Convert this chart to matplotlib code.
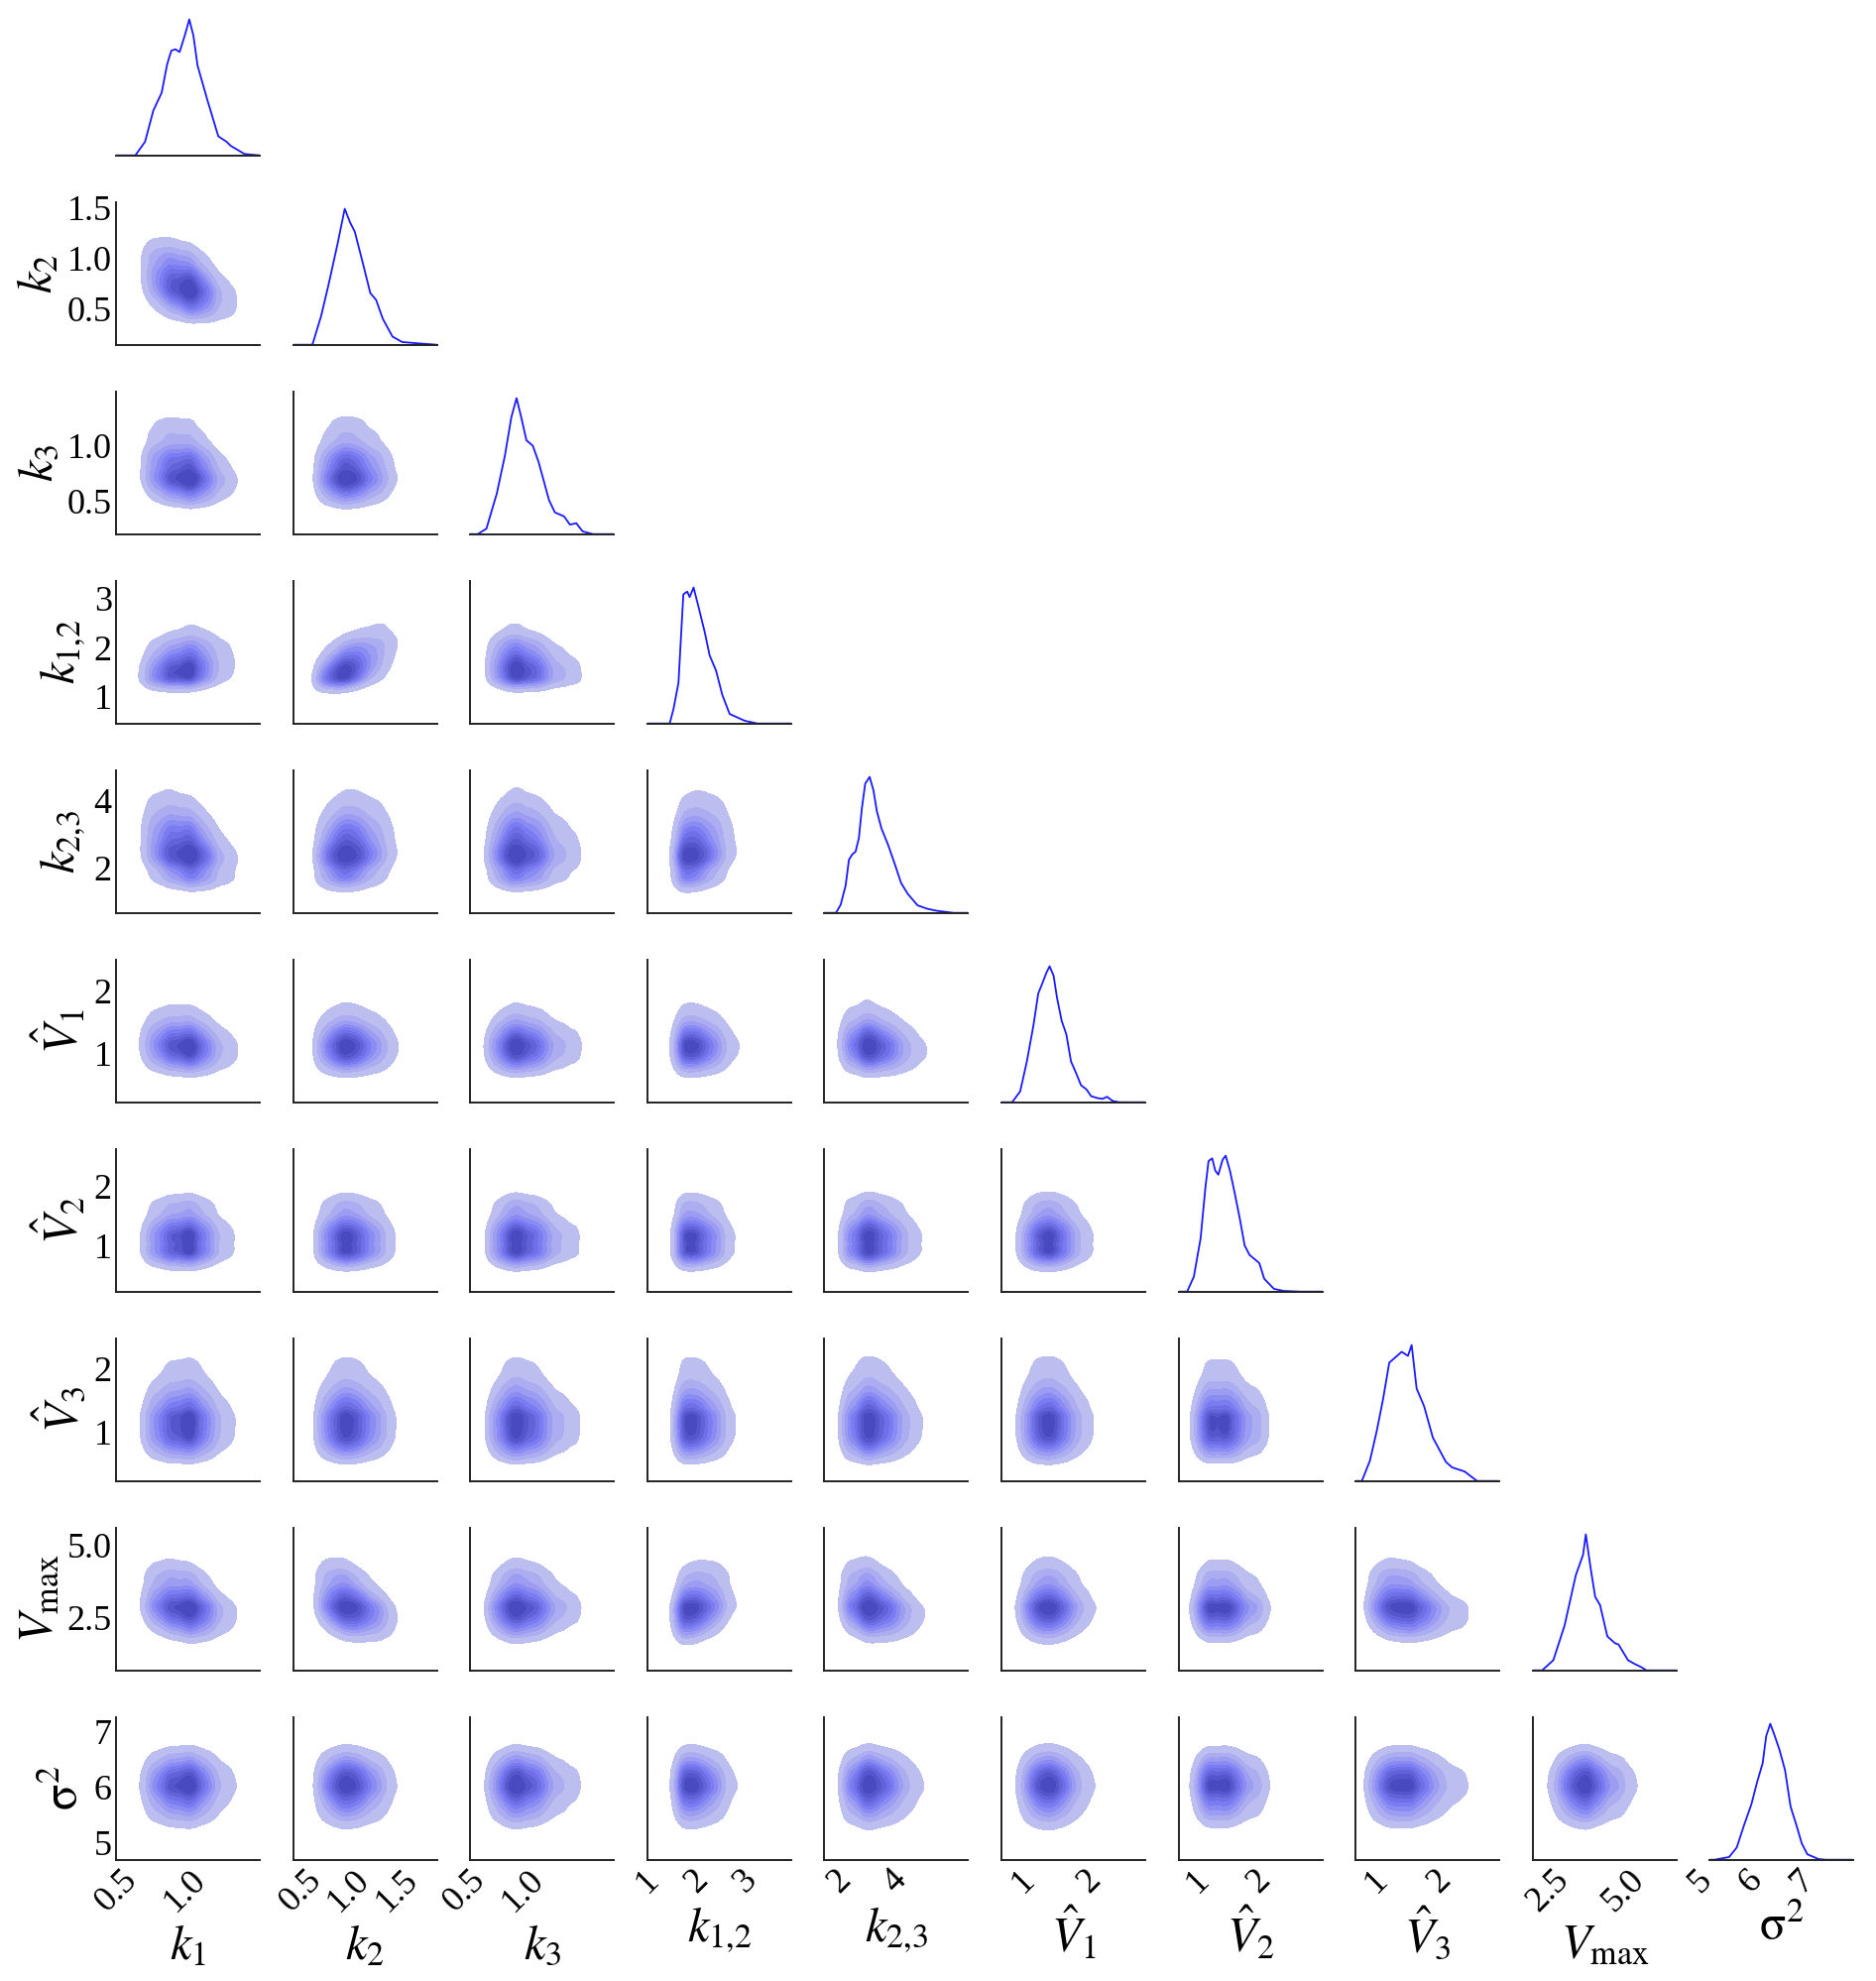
import numpy as np
import matplotlib
matplotlib.use("Agg")
import matplotlib.pyplot as plt
from matplotlib.colors import LinearSegmentedColormap

plt.rcParams['font.family'] = ['Liberation Serif', 'DejaVu Serif']
plt.rcParams['mathtext.fontset'] = 'stix'

# variables of the corner plot
names = ['k1', 'k2', 'k3', 'k12', 'k23', 'V1', 'V2', 'V3', 'Vmax', 'sigma2']
labels = [r'$k_1$', r'$k_2$', r'$k_3$', r'$k_{1{,}2}$', r'$k_{2{,}3}$',
          r'$\hat{V}_1$', r'$\hat{V}_2$', r'$\hat{V}_3$', r'$V_{\mathrm{max}}$',
          r'$\mathrm{\sigma}^2$']

# axis ranges (x: columns, y: rows)
x_ranges = [(0.30, 1.34), (0.14, 1.63), (0.31, 1.55), (0.62, 3.57), (0.79, 6.0),
            (0.41, 2.56), (0.39, 2.74), (0.37, 2.68), (1.10, 5.84), (4.83, 7.66)]
y_ranges = [None, (0.14, 1.56), (0.205, 1.49), (0.46, 3.36), (0.68, 4.9),
            (0.22, 2.51), (0.23, 2.62), (0.24, 2.48), (0.66, 5.61), (4.70, 7.27)]
ticks = [[0.5, 1.0], [0.5, 1.0, 1.5], [0.5, 1.0], [1, 2, 3], [2, 4],
         [1, 2], [1, 2], [1, 2], [2.5, 5.0], [5, 6, 7]]
tick_labels = [['0.5', '1.0'], ['0.5', '1.0', '1.5'], ['0.5', '1.0'], ['1', '2', '3'], ['2', '4'],
               ['1', '2'], ['1', '2'], ['1', '2'], ['2.5', '5.0'], ['5', '6', '7']]

# marginal posterior densities (relative height)
k1_vals = [0.30, 0.44, 0.51, 0.57, 0.63, 0.67, 0.70, 0.73, 0.76, 0.80, 0.83, 0.86, 0.89, 0.96, 1.04, 1.10, 1.13, 1.23, 1.34]
k1_dens = [0, 0, 0.10, 0.33, 0.46, 0.67, 0.77, 0.78, 0.76, 0.89, 1.0, 0.88, 0.66, 0.41, 0.14, 0.10, 0.07, 0.01, 0]
k2_vals = [0.14, 0.34, 0.43, 0.51, 0.60, 0.675, 0.73, 0.78, 0.87, 0.94, 1.00, 1.07, 1.17, 1.27, 1.44, 1.63]
k2_dens = [0, 0, 0.21, 0.45, 0.74, 1.0, 0.90, 0.83, 0.58, 0.38, 0.33, 0.19, 0.06, 0.02, 0.01, 0]
k3_vals = [0.31, 0.375, 0.45, 0.54, 0.61, 0.665, 0.71, 0.75, 0.795, 0.85, 0.90, 0.99, 1.04, 1.12, 1.17, 1.225, 1.28, 1.37, 1.55]
k3_dens = [0, 0, 0.04, 0.30, 0.58, 0.86, 1.0, 0.86, 0.69, 0.65, 0.53, 0.25, 0.16, 0.13, 0.07, 0.08, 0.02, 0, 0]
k12_vals = [0.62, 1.08, 1.16, 1.26, 1.36, 1.44, 1.49, 1.57, 1.67, 1.80, 1.90, 2.03, 2.16, 2.31, 2.62, 2.88, 3.57]
k12_dens = [0, 0, 0.11, 0.30, 0.95, 0.97, 0.93, 1.0, 0.86, 0.67, 0.50, 0.39, 0.21, 0.07, 0.02, 0, 0]
k23_vals = [0.79, 1.21, 1.38, 1.56, 1.68, 1.80, 1.92, 2.04, 2.15, 2.27, 2.43, 2.57, 2.69, 2.86, 3.10, 3.34,
            3.57, 3.81, 4.17, 4.52, 4.87, 5.47, 6.0]
k23_dens = [0, 0, 0.06, 0.20, 0.39, 0.43, 0.45, 0.55, 0.77, 0.95, 1.0, 0.90, 0.75, 0.62, 0.50, 0.36,
            0.22, 0.14, 0.055, 0.03, 0.015, 0, 0]
V1_vals = [0.41, 0.57, 0.69, 0.79, 0.89, 0.96, 1.01, 1.08, 1.13, 1.19, 1.24, 1.31, 1.38, 1.45, 1.53, 1.60,
           1.68, 1.75, 1.85, 1.92, 1.99, 2.07, 2.17, 2.56]
V1_dens = [0, 0, 0.08, 0.30, 0.57, 0.80, 0.86, 0.95, 1.0, 0.93, 0.77, 0.60, 0.50, 0.30, 0.21, 0.125,
           0.095, 0.045, 0.03, 0.025, 0.04, 0.01, 0, 0]
V2_vals = [0.39, 0.53, 0.64, 0.75, 0.83, 0.88, 0.94, 0.99, 1.04, 1.11, 1.16, 1.23, 1.31, 1.39, 1.47, 1.55,
           1.63, 1.71, 1.79, 1.87, 1.95, 2.11, 2.38, 2.74]
V2_dens = [0, 0, 0.11, 0.39, 0.77, 0.96, 0.98, 0.89, 0.86, 0.97, 1.0, 0.89, 0.72, 0.54, 0.34, 0.27,
           0.24, 0.21, 0.095, 0.057, 0.02, 0.005, 0, 0]
V3_vals = [0.37, 0.47, 0.60, 0.71, 0.81, 0.91, 1.01, 1.11, 1.21, 1.27, 1.35, 1.47, 1.61, 1.82, 1.92, 2.12, 2.32, 2.68]
V3_dens = [0, 0, 0.15, 0.37, 0.60, 0.87, 0.91, 0.95, 0.92, 1.0, 0.68, 0.55, 0.32, 0.14, 0.10, 0.07, 0, 0]
Vmax_vals = [1.10, 1.41, 1.78, 2.15, 2.52, 2.76, 2.85, 3.01, 3.16, 3.32, 3.56, 3.81, 3.93, 4.24, 4.48, 4.67, 4.85, 5.84]
Vmax_dens = [0, 0, 0.075, 0.33, 0.70, 0.85, 1.0, 0.75, 0.54, 0.48, 0.25, 0.20, 0.19, 0.075, 0.045, 0.025, 0, 0]
sigma2_vals = [4.83, 4.92, 5.21, 5.36, 5.50, 5.65, 5.76, 5.87, 5.94, 6.02, 6.09, 6.20, 6.31, 6.42, 6.53, 6.64, 6.75, 6.97, 7.11, 7.66]
sigma2_dens = [0, 0, 0.02, 0.09, 0.25, 0.41, 0.57, 0.71, 0.91, 1.0, 0.93, 0.81, 0.66, 0.39, 0.26, 0.12, 0.04, 0.005, 0, 0]

marg_vals = [k1_vals, k2_vals, k3_vals, k12_vals, k23_vals, V1_vals, V2_vals, V3_vals, Vmax_vals, sigma2_vals]
marg_dens = [k1_dens, k2_dens, k3_dens, k12_dens, k23_dens, V1_dens, V2_dens, V3_dens, Vmax_dens, sigma2_dens]

# pairwise correlation estimated from the tilt of each joint panel (rest ~0)
corr = [('k2', 'k1', -0.35), ('k3', 'k1', -0.15), ('k12', 'k1', 0.15), ('k12', 'k2', 0.45),
        ('k12', 'k3', -0.10), ('k23', 'k1', -0.25), ('k23', 'k2', 0.10), ('k23', 'k12', 0.15),
        ('V1', 'k1', -0.10), ('V1', 'k23', -0.10), ('Vmax', 'k1', -0.20), ('Vmax', 'k2', -0.30),
        ('Vmax', 'k12', 0.20), ('Vmax', 'k23', -0.20), ('Vmax', 'V3', -0.15)]
rho = {(a, b): r for a, b, r in corr}

band_cmap = LinearSegmentedColormap.from_list('bands', ['#bdbef0', '#7b7cf3', '#4a4ac0'])
n_levels = 10
band_colors = band_cmap(np.linspace(0, 1, n_levels - 1))


def smooth(y, width):
    k = np.arange(-3 * width, 3 * width + 1)
    kern = np.exp(-0.5 * (k / width) ** 2)
    return np.convolve(y, kern / kern.sum(), mode='same')


def marginal_on(i, grid, width):
    f = np.interp(grid, marg_vals[i], marg_dens[i], left=0, right=0)
    return np.clip(smooth(f, width), 0, None)


# mean / sd of each marginal, used for the correlation term
stats = []
for i in range(len(names)):
    g = np.linspace(x_ranges[i][0], x_ranges[i][1], 400)
    f = np.interp(g, marg_vals[i], marg_dens[i])
    m = (g * f).sum() / f.sum()
    s = np.sqrt(((g - m) ** 2 * f).sum() / f.sum())
    stats.append((m, s))


def iso_levels(d, qs):
    vals = np.sort(d.ravel())[::-1]
    cum = np.cumsum(vals) / vals.sum()
    idx = np.searchsorted(cum, 1 - np.asarray(qs))
    return np.take(vals, idx, mode='clip')


W, H = 1892, 1998
fig = plt.figure(figsize=(W / 100, H / 100), dpi=100)
n = len(names)
left0, pitch_x, aw = 117, 178.6, 145
bottom0, pitch_y, ah = 156.7, 191, 144

for i in range(n):
    for j in range(i + 1):
        x0 = left0 + j * pitch_x
        yb = bottom0 + i * pitch_y
        ax = fig.add_axes([x0 / W, 1 - yb / H, aw / W, ah / H])
        for side in ['top', 'right']:
            ax.spines[side].set_visible(False)
        for side in ['left', 'bottom']:
            ax.spines[side].set_color('#222222')
            ax.spines[side].set_linewidth(1.4)
        ax.tick_params(length=0, labelsize=26, pad=3)
        ax.set_xlim(*x_ranges[j])

        if i == j:
            ax.plot(marg_vals[i], marg_dens[i], color='#1a1aff', lw=1.3)
            ax.set_ylim(0, 1.05)
            ax.spines['left'].set_visible(False)
            ax.set_yticks([])
        else:
            gx = np.linspace(x_ranges[j][0], x_ranges[j][1], 300)
            gy = np.linspace(y_ranges[i][0], y_ranges[i][1], 300)
            fx = marginal_on(j, gx, 7)
            fy = marginal_on(i, gy, 7)
            r = rho.get((names[i], names[j]), 0.0)
            zx = (gx - stats[j][0]) / stats[j][1]
            zy = (gy - stats[i][0]) / stats[i][1]
            ZX, ZY = np.meshgrid(zx, zy)
            cop = np.exp(-(r ** 2 * (ZX ** 2 + ZY ** 2) - 2 * r * ZX * ZY) / (2 * (1 - r ** 2)))
            dens = fy[:, None] * fx[None, :] * cop
            lev = iso_levels(dens, np.linspace(0.05, 1, n_levels))
            lev = np.unique(lev)
            ax.contourf(gx, gy, dens, levels=lev, colors=band_colors[-(len(lev) - 1):])
            ax.set_ylim(*y_ranges[i])

        if j == 0 and i > 0:
            ax.set_yticks(ticks[i])
            ax.set_yticklabels(tick_labels[i])
            ax.set_ylabel(labels[i], fontsize=35, labelpad=4)
        elif i != j:
            ax.set_yticks(ticks[i])
            ax.set_yticklabels([])
        if i == n - 1:
            ax.set_xticks(ticks[j])
            ax.set_xticklabels(tick_labels[j], rotation=45, ha='right')
            ax.set_xlabel(labels[j], fontsize=35, labelpad=4)
        else:
            ax.set_xticks(ticks[j])
            ax.set_xticklabels([])

fig.savefig('out.png', dpi=100)
